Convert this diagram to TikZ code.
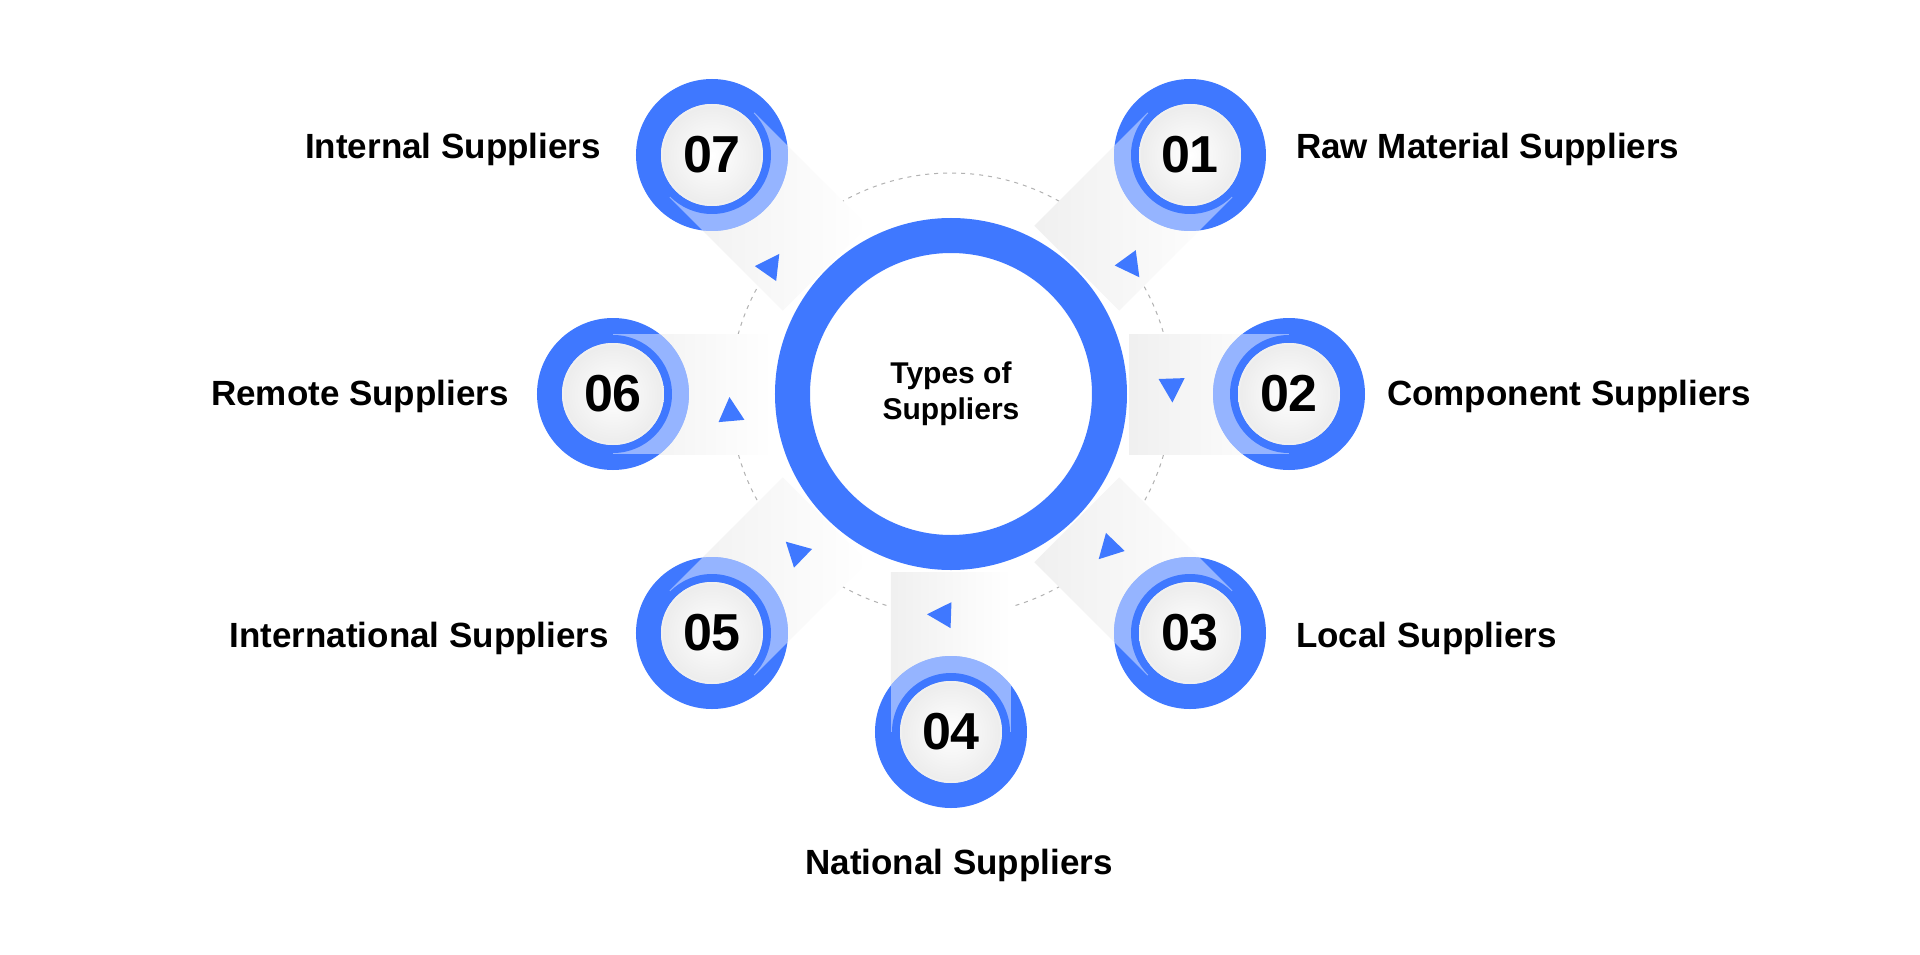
\documentclass[tikz,border=0pt]{standalone}
\usepackage{fontspec}
\setmainfont{Liberation Sans}
\usetikzlibrary{shapes.geometric}
\definecolor{mblue}{HTML}{3F78FF}
\tikzset{
  lbl/.style={font=\fontsize{35}{40}\selectfont\bfseries, text=black, inner sep=0pt},
  num/.style={font=\fontsize{52}{54}\selectfont\bfseries, text=black, inner sep=0pt},
  tri/.style={isosceles triangle, isosceles triangle apex angle=55, isosceles triangle stretches, fill=mblue, inner sep=0pt, minimum height=24pt, minimum width=26pt},
}
\begin{document}
\begin{tikzpicture}[x=1pt,y=1pt]
\useasboundingbox[fill=white] (-951,-560) rectangle (969,394);
\draw[gray!60, line width=1pt, dash pattern=on 4pt off 5pt] (0,0) circle (221);
% satellites
\foreach \a/\n in {45/01,0/02,-45/03,-90/04,-135/05,180/06,135/07}{
  \begin{scope}[shift={(\a:338)}, rotate=\a+180]
    \shade[left color=black!6, right color=white] (0,-60) rectangle (160,60);
  \end{scope}
  \fill[mblue] (\a:338) circle (76);
  \begin{scope}
    \clip (\a:338) circle (76);
    \begin{scope}[shift={(\a:338)}, rotate=\a+180]
      \fill[white, opacity=0.45] (0,-60) rectangle (100,60);
    \end{scope}
  \end{scope}
  \fill[mblue] (\a:338) circle (59);
  \shade[inner color=white, outer color=gray!15] (\a:338) circle (51);
  \draw[gray!12, line width=2pt] (\a:338) circle (50);
  \node[num] (s\n) at (\a:338) {\n};
}
% main ring
\draw[mblue, line width=35pt] (0,0) circle (158.5);
\node[font=\fontsize{30}{36}\selectfont\bfseries, align=center] (c) at (0,0) {Types of\\Suppliers};
% arrows on dashed circle
\foreach \a [count=\i] in {36,2,-44,-92,-134,-175,145}{
  \node[tri, rotate=\a-90] (t\i) at (\a:221) {};
}
% labels
\node[lbl, anchor=west] (l1) at (345,245) {Raw Material Suppliers};
\node[lbl, anchor=west] (l2) at (436,-2) {Component Suppliers};
\node[lbl, anchor=west] (l3) at (345,-244) {Local Suppliers};
\node[lbl] (l4) at (8,-471) {National Suppliers};
\node[lbl, anchor=east] (l5) at (-342,-244) {International Suppliers};
\node[lbl, anchor=east] (l6) at (-442,-2) {Remote Suppliers};
\node[lbl, anchor=east] (l7) at (-350,245) {Internal Suppliers};
\end{tikzpicture}
\end{document}
